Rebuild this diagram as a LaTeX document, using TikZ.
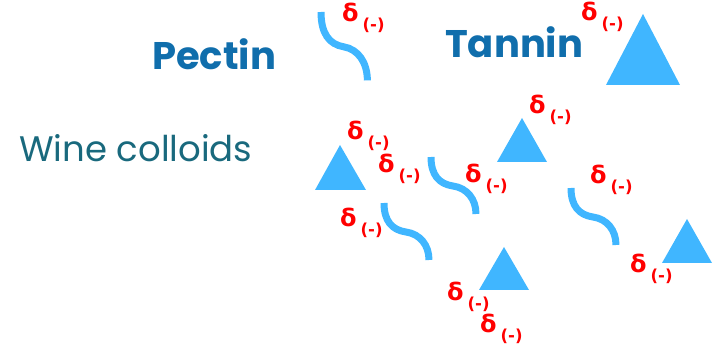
\documentclass[tikz,border=0pt]{standalone}
\usepackage{fontspec}
\setmainfont{Poppins}
\newfontfamily\dfont{DejaVu Sans}[BoldFont={DejaVu Sans Bold}]
\definecolor{titleblue}{RGB}{16,110,172}
\definecolor{wineteal}{RGB}{25,105,125}
\definecolor{shapeblue}{RGB}{64,182,255}
\definecolor{dred}{RGB}{255,0,0}
\newcommand\dneg{{\dfont\bfseries\fontsize{24}{24}\selectfont δ}\hspace{4pt}\raisebox{-9pt}{\dfont\bfseries\fontsize{16.5}{16.5}\selectfont(-)}}
\begin{document}
\begin{tikzpicture}[x=1pt,y=-1pt,
  titletext/.style={anchor=base west,inner sep=0pt,text=titleblue,font=\bfseries\fontsize{38.5}{38.5}\selectfont},
  winetext/.style={anchor=base west,inner sep=0pt,text=wineteal,font=\fontsize{35.5}{35.5}\selectfont},
  dlab/.style={anchor=base west,inner sep=0pt,text=dred},
  squigline/.style={draw=shapeblue,line width=7pt,line cap=butt},
  trifill/.style={fill=shapeblue},
  squig/.pic={\draw[squigline] (0,0) .. controls (0,18) and (8,27) .. (22,29) .. controls (36,31) and (45,42) .. (45,57);}
]
\useasboundingbox (0,0) rectangle (721,352);
% titles
\node[titletext] (pectin) at (152,70) {Pectin};
\node[titletext] (tannin) at (445,58) {Tannin};
\node[winetext] (wine) at (19,162) {Wine colloids};
% triangles
\fill[trifill] (606,85) -- (680,85) -- (643,14) -- cycle;
\fill[trifill] (315,190) -- (366,190) -- (340,145) -- cycle;
\fill[trifill] (497,162) -- (547,162) -- (522,118) -- cycle;
\fill[trifill] (479,290) -- (529,290) -- (504,247) -- cycle;
\fill[trifill] (662,263) -- (712,263) -- (687,219) -- cycle;
% squiggles
\pic[xscale=1.03,yscale=1.2] at (321,12) {squig};
\pic at (431,157) {squig};
\pic at (384,203) {squig};
\pic at (571,188) {squig};
% charges
\node[dlab] (d1) at (342,22) {\dneg};
\node[dlab] (d2) at (581,21) {\dneg};
\node[dlab] (d3) at (347,140) {\dneg};
\node[dlab] (d4) at (378,173) {\dneg};
\node[dlab] (d5) at (465,183) {\dneg};
\node[dlab] (d6) at (529,114) {\dneg};
\node[dlab] (d7) at (590,184) {\dneg};
\node[dlab] (d8) at (340,227) {\dneg};
\node[dlab] (d9) at (447,301) {\dneg};
\node[dlab] (d10) at (480,333) {\dneg};
\node[dlab] (d11) at (630,273) {\dneg};
\end{tikzpicture}
\end{document}
